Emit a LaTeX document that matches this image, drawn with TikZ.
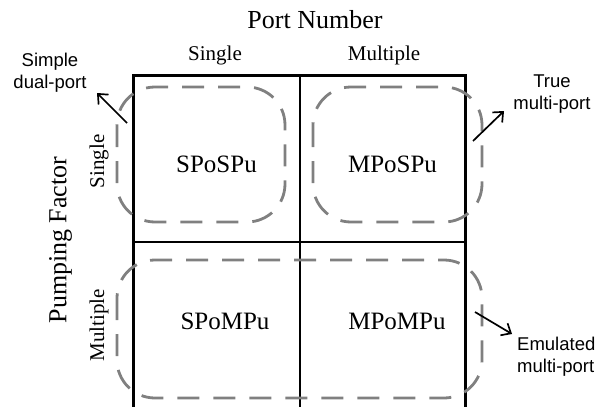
\documentclass[tikz,border=0pt]{standalone}
\usepackage{fontspec}
\setmainfont{Liberation Serif}
\setsansfont{Liberation Sans}
\usepackage{xcolor}
\definecolor{DashGray}{RGB}{128,128,128}
\usetikzlibrary{arrows.meta, positioning}
\tikzset{
  cell/.style={font=\fontsize{25}{30}\selectfont, inner sep=0pt},
  head/.style={font=\fontsize{21}{25}\selectfont, inner sep=0pt},
  axis/.style={font=\fontsize{26}{31}\selectfont, inner sep=0pt},
  note/.style={font=\sffamily\fontsize{18.5}{22}\selectfont, inner sep=0pt},
  group/.style={draw=DashGray, line width=2.8pt, dash pattern=on 22pt off 14pt,
                rounded corners=38pt},
  pointer/.style={-{Straight Barb[length=8pt,width=14pt]}, line width=1.7pt}
}

\begin{document}
\begin{tikzpicture}[x=1pt, y=-1pt]
\useasboundingbox (0,0) rectangle (598,407);

% the 2x2 grid
\draw[line width=2pt] (300,75) -- (300,407) (133,242) -- (466,242);
\draw[line width=3.6pt] (133.5,75.5) rectangle (465.5,408.5);

% dashed groups
\draw[group] (117,87) rectangle (285,222);
\draw[group] (313,87) rectangle (482,222);
\draw[group] (117,260) rectangle (482,398);

% axis titles
\node[axis, anchor=base] (portnum) at (315,28) {Port Number};
\node[axis, rotate=90] (pumping) at (60.5,240) {Pumping Factor};
\node[head, anchor=base] (colsingle) at (215,60) {Single};
\node[head, anchor=base] (colmulti) at (384,60) {Multiple};
\node[head, rotate=90] (rowsingle) at (99,161.5) {Single};
\node[head, rotate=90] (rowmulti) at (99,325.5) {Multiple};

% cells
\node[cell] (sposPu) at (216.5,164) {SPoSPu};
\node[cell] (mposPu) at (392.5,164) {MPoSPu};
\node[cell] (spomPu) at (225,321) {SPoMPu};
\node[cell] (mpomPu) at (397,321) {MPoMPu};

% port classes
\node[note, align=center, anchor=north] (dualport) at (50,53) {Simple\\dual-port};
\node[note, align=center, anchor=north] (truemp) at (552,75) {True\\multi-port};
\node[note, align=left, anchor=north west] (emulmp) at (517,337) {Emulated\\multi-port};

\coordinate (dpfrom) at (127,123);
\coordinate (dpto) at (97,93);
\coordinate (tmfrom) at (473,141);
\coordinate (tmto) at (504,111);
\coordinate (emfrom) at (475,312);
\coordinate (emto) at (512,334);
\draw[pointer] (dpfrom) -- (dpto);
\draw[pointer] (tmfrom) -- (tmto);
\draw[pointer] (emfrom) -- (emto);
\end{tikzpicture}
\end{document}
